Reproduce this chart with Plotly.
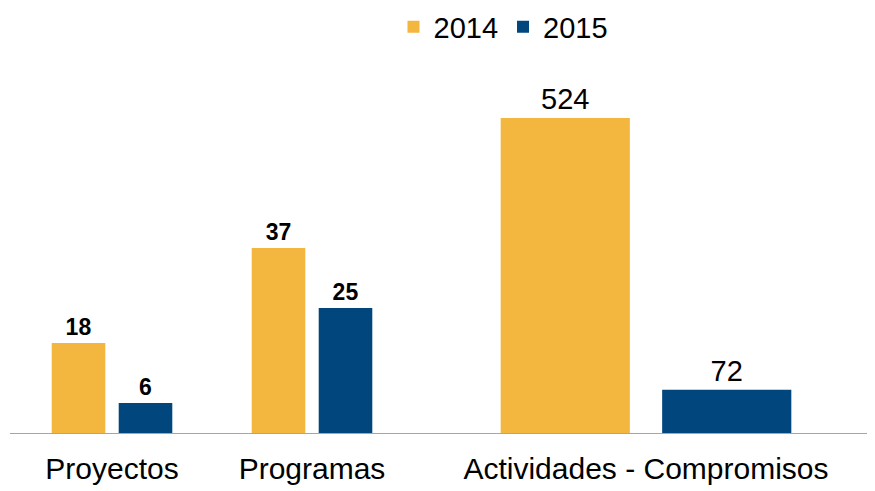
import plotly.graph_objects as go

cats_small = ["Proyectos", "Programas"]
vals_2014_small = [18, 37]
vals_2015_small = [6, 25]

cats_big = ["Actividades - Compromisos"]
vals_2014_big = [524]
vals_2015_big = [72]

series_names = ["2014", "2015"]
colors = ["#F3B63F", "#01467D"]

FONT = "Liberation Sans, Arial, sans-serif"

fig = go.Figure()

small_label_font = dict(family=FONT, size=23, color="black")
big_label_font = dict(family=FONT, size=29, color="black")

for name, vals, col in zip(series_names, [vals_2014_small, vals_2015_small], colors):
    fig.add_trace(go.Bar(
        x=cats_small, y=vals, name=name, marker=dict(color=col, line=dict(width=0)),
        text=[f"<b>{v}</b>" for v in vals], textposition="outside",
        textfont=small_label_font, cliponaxis=False,
        xaxis="x", yaxis="y", legendgroup=name, showlegend=True,
    ))

for name, vals, col in zip(series_names, [vals_2014_big, vals_2015_big], colors):
    fig.add_trace(go.Bar(
        x=cats_big, y=vals, name=name, marker=dict(color=col, line=dict(width=0)),
        text=[str(v) for v in vals], textposition="outside",
        textfont=big_label_font, cliponaxis=False,
        xaxis="x2", yaxis="y2", legendgroup=name, showlegend=False,
    ))

W, H = 867, 483
top, bottom = 60, 58
plot_h = H - top - bottom
base_y = H - bottom
split = 429.5

fig.update_layout(
    width=W, height=H,
    margin=dict(l=0, r=0, t=top, b=bottom, autoexpand=False),
    paper_bgcolor="white", plot_bgcolor="white",
    barmode="group", bargap=0.33, bargroupgap=0.2,
    font=dict(family=FONT, size=29, color="black"),
    legend=dict(orientation="h", x=495.5 / W, xanchor="center",
                y=(base_y - 19) / plot_h, yanchor="middle",
                font=dict(family=FONT, size=29), itemwidth=30, traceorder="normal"),
    xaxis=dict(domain=[2 / W, split / W], range=[(2 - 104) / 200, (split - 104) / 200],
               showline=True, linecolor="#A6A6A6", linewidth=1, ticks="",
               showgrid=False, zeroline=False, tickfont=dict(size=30), ticklabelstandoff=9),
    xaxis2=dict(domain=[split / W, 1.0], range=[(split - 638) / 482, (W - 638) / 482],
                showline=True, linecolor="#A6A6A6", linewidth=1, ticks="",
                showgrid=False, zeroline=False, tickfont=dict(size=30), ticklabelstandoff=9),
    yaxis=dict(anchor="x", range=[0, plot_h / 5.0], visible=False, showgrid=False),
    yaxis2=dict(anchor="x2", range=[0, plot_h / 0.6011], visible=False, showgrid=False),
)

fig.write_html("out.html")
